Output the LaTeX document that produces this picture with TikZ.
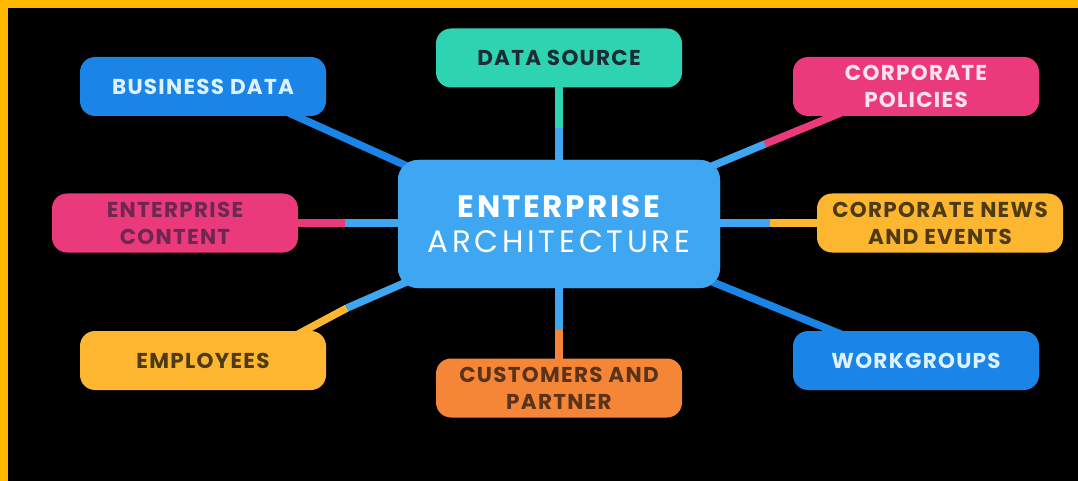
\documentclass[tikz,border=0pt]{standalone}
\usepackage{fontspec}
\setmainfont{Poppins}
\usetikzlibrary{calc}
\definecolor{bgorange}{HTML}{FFBA00}
\definecolor{boxblue}{HTML}{1A85E6}
\definecolor{centerblue}{HTML}{3FA6F2}
\definecolor{linkblue}{HTML}{3FA6F2}
\definecolor{teal}{HTML}{2ED3B1}
\definecolor{pink}{HTML}{EA3A7C}
\definecolor{yel}{HTML}{FDB62F}
\definecolor{orng}{HTML}{F58638}
\definecolor{lighttxt}{HTML}{DDF1FF}
\definecolor{darktxt}{HTML}{1D2B35}
\definecolor{pinktxt}{HTML}{6E2752}
\definecolor{yeltxt}{HTML}{4D3A16}
\definecolor{orgtxt}{HTML}{5A3318}
\definecolor{poltxt}{HTML}{FBE3EE}
\tikzset{
  x=1pt, y=-1pt,
  leaf/.style={rounded corners=15pt, minimum width=246pt, minimum height=59pt,
    inner sep=0pt, align=center, font=\fontsize{21.5}{27}\selectfont\bfseries\addfontfeatures{LetterSpace=6}},
  hub/.style={rounded corners=20pt, minimum width=322pt, minimum height=128pt,
    inner sep=0pt, align=center, fill=centerblue, text=white, font=\fontsize{31}{35}\selectfont},
  link/.style={line width=7.5pt}
}
\begin{document}
\begin{tikzpicture}
\useasboundingbox (0,0) rectangle (1078,481);
\fill[black] (0,0) rectangle (1078,481);
\fill[bgorange] (0,0) rectangle (1078,8);
\fill[bgorange] (0,0) rectangle (8,481);

% node frames (placed first so that connectors can refer to them)
\node[hub] (c) at (559,224) {};
\node[leaf] (bd) at (203,86.5) {};
\node[leaf] (ds) at (559,58) {};
\node[leaf] (cp) at (916,86.5) {};
\node[leaf] (ec) at (175,223) {};
\node[leaf] (cn) at (940,223) {};
\node[leaf] (em) at (203,360.5) {};
\node[leaf] (cu) at (559,388) {};
\node[leaf] (wg) at (916,360.5) {};

% link points
\coordinate (bdS) at ($(bd.south)+(82,-5)$);
\coordinate (bdE) at ($(c.north west)+(22,12)$);
\coordinate (dsS) at ($(ds.south)+(0,-8)$);
\coordinate (dsM) at (559,128);
\coordinate (dsE) at ($(c.north)+(0,10)$);
\coordinate (cpS) at ($(cp.south)+(-71,-5)$);
\coordinate (cpM) at (765,144);
\coordinate (cpE) at ($(c.north east)+(-22,12)$);
\coordinate (ecS) at ($(ec.east)+(-8,0)$);
\coordinate (ecM) at (345,223);
\coordinate (ecE) at ($(c.west)+(10,-1)$);
\coordinate (cnS) at ($(cn.west)+(8,0)$);
\coordinate (cnM) at (770,223);
\coordinate (cnE) at ($(c.east)+(-10,-1)$);
\coordinate (emS) at ($(em.north)+(92,5)$);
\coordinate (emM) at (347,308);
\coordinate (emE) at ($(c.south west)+(22,-12)$);
\coordinate (cuS) at ($(cu.north)+(0,8)$);
\coordinate (cuM) at (559,330);
\coordinate (cuE) at ($(c.south)+(0,-10)$);
\coordinate (wgS) at ($(wg.north)+(-71,5)$);
\coordinate (wgE) at ($(c.south east)+(-22,-12)$);

\draw[link, boxblue] (bdS) -- (bdE);
\draw[link, teal] (dsS) -- (dsM);
\draw[link, linkblue] (dsM) -- (dsE);
\draw[link, pink] (cpS) -- (cpM);
\draw[link, linkblue] (cpM) -- (cpE);
\draw[link, pink] (ecS) -- (ecM);
\draw[link, linkblue] (ecM) -- (ecE);
\draw[link, yel] (cnS) -- (cnM);
\draw[link, linkblue] (cnM) -- (cnE);
\draw[link, yel] (emS) -- (emM);
\draw[link, linkblue] (emM) -- (emE);
\draw[link, orng] (cuS) -- (cuM);
\draw[link, linkblue] (cuM) -- (cuE);
\draw[link, boxblue] (wgS) -- (wgE);

% boxes drawn over connectors
\node[hub] at (c) {{\bfseries\addfontfeatures{LetterSpace=8}ENTERPRISE}\\{\addfontfeatures{LetterSpace=12}ARCHITECTURE}};
\node[leaf, fill=boxblue, text=lighttxt] at (bd) {BUSINESS DATA};
\node[leaf, fill=teal, text=darktxt] at (ds) {DATA SOURCE};
\node[leaf, fill=pink, text=poltxt] at (cp) {CORPORATE\\POLICIES};
\node[leaf, fill=pink, text=pinktxt] at (ec) {ENTERPRISE\\CONTENT};
\node[leaf, fill=yel, text=yeltxt] at (cn) {CORPORATE NEWS\\AND EVENTS};
\node[leaf, fill=yel, text=yeltxt] at (em) {EMPLOYEES};
\node[leaf, fill=orng, text=orgtxt] at (cu) {CUSTOMERS AND\\PARTNER};
\node[leaf, fill=boxblue, text=lighttxt] at (wg) {WORKGROUPS};
\end{tikzpicture}
\end{document}
